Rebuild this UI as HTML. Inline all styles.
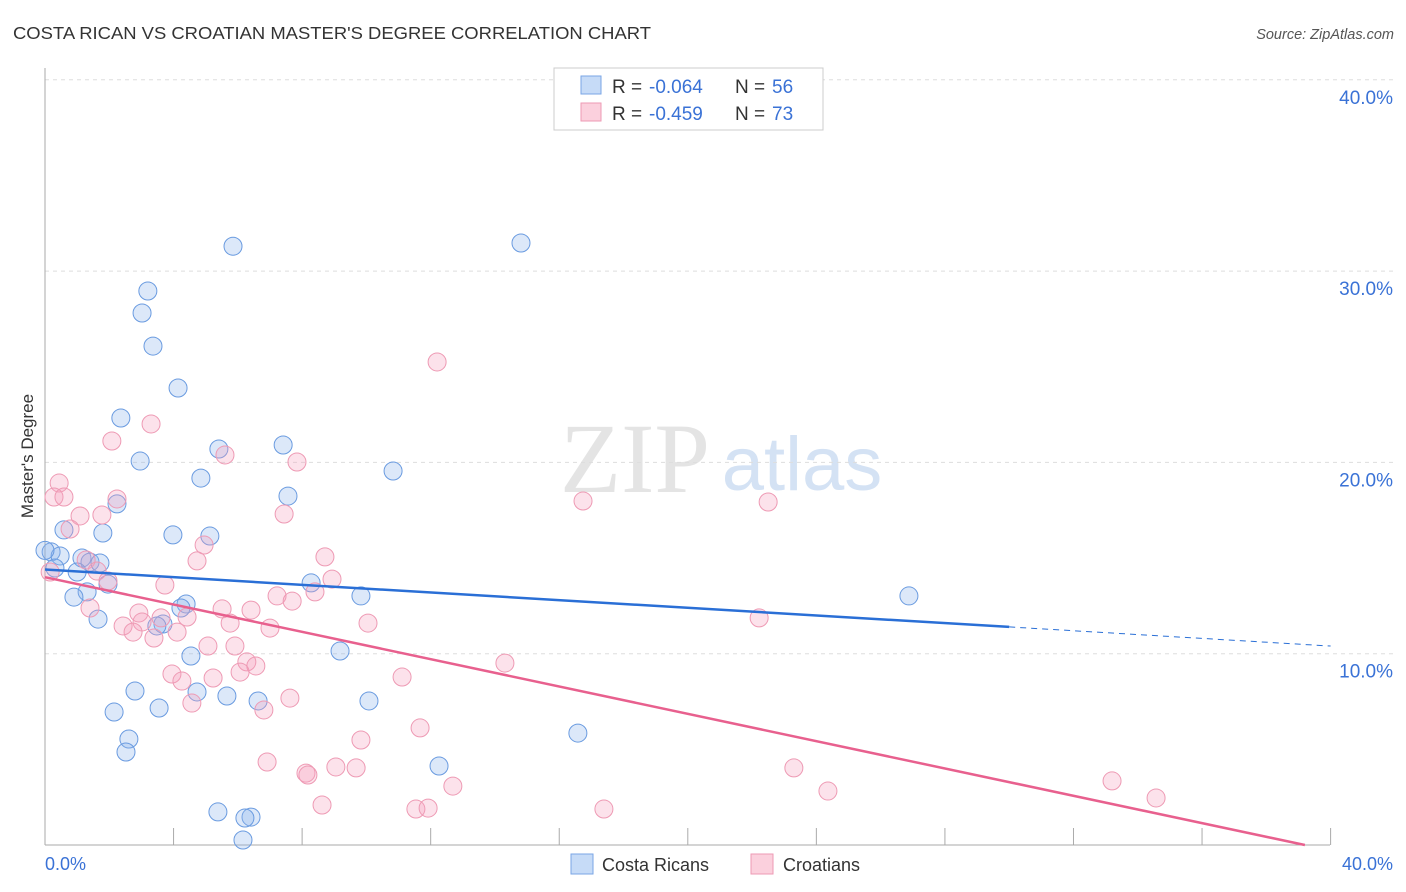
<!DOCTYPE html>
<html><head><meta charset="utf-8"><style>
body{margin:0;background:#fff;font-family:"Liberation Sans",sans-serif;}
svg{display:block}
</style></head><body>
<svg id="c" width="1406" height="892" xmlns="http://www.w3.org/2000/svg">
<text x="13" y="39" font-size="17.5" fill="#333" textLength="638" lengthAdjust="spacingAndGlyphs">COSTA RICAN VS CROATIAN MASTER'S DEGREE CORRELATION CHART</text>
<text x="1394" y="39" font-size="14.5" fill="#555" text-anchor="end" font-style="italic">Source: ZipAtlas.com</text>
<text x="635" y="492" font-size="100" fill="#e4e4e4" text-anchor="middle" font-family="Liberation Serif, serif">ZIP</text>
<text x="802" y="490" font-size="76" fill="#d4e2f4" text-anchor="middle">atlas</text>
<g id="grid"></g>
<g id="axes"></g>
<g id="pts"></g>
<g id="lines"></g>
<text transform="translate(33,456) rotate(-90)" font-size="17" fill="#333" text-anchor="middle">Master's Degree</text>
<g>
<rect x="554" y="68" width="269" height="62" fill="#fff" stroke="#ccc"/>
<rect x="581" y="76" width="20" height="18" fill="#c6dbf7" stroke="#7aa6e6"/>
<rect x="581" y="103" width="20" height="18" fill="#fbd0dd" stroke="#ee9ab4"/>
<text x="612" y="93" font-size="19" fill="#333">R =</text>
<text x="649" y="93" font-size="19" fill="#3a72d6">-0.064</text>
<text x="735" y="93" font-size="19" fill="#333">N =</text>
<text x="772" y="93" font-size="19" fill="#3a72d6">56</text>
<text x="612" y="120" font-size="19" fill="#333">R =</text>
<text x="649" y="120" font-size="19" fill="#3a72d6">-0.459</text>
<text x="735" y="120" font-size="19" fill="#333">N =</text>
<text x="772" y="120" font-size="19" fill="#3a72d6">73</text>
</g>
<g>
<rect x="571" y="854" width="22" height="20" fill="#c6dbf7" stroke="#7aa6e6"/>
<text x="602" y="871" font-size="18" fill="#333">Costa Ricans</text>
<rect x="751" y="854" width="22" height="20" fill="#fbd0dd" stroke="#ee9ab4"/>
<text x="783" y="871" font-size="18" fill="#333">Croatians</text>
</g>
</svg>
<script>
const yTicks=[10,20,30,40];
const yTickLabels=["10.0%","20.0%","30.0%","40.0%"];
const xTickLabels=["0.0%","40.0%"];
const blueX=[5.85,14.81,3.20,3.02,3.36,4.14,2.36,2.96,5.41,7.41,10.83,4.85,7.56,2.24,0.59,1.80,3.98,5.13,0.19,0.47,1.15,1.40,0.31,1.0,1.96,1.31,0.90,8.28,9.83,4.39,4.23,1.65,3.67,3.48,26.88,4.54,9.18,2.80,4.73,5.66,6.63,10.08,2.15,3.55,2.61,2.52,16.58,12.26,5.38,6.41,6.22,6.16,0.0,1.71];
const blueY=[31.3,31.47,28.96,27.81,26.08,23.89,22.32,20.07,20.70,20.91,19.55,19.18,18.24,17.83,16.47,16.31,16.21,16.15,15.32,15.11,15.0,14.79,14.48,14.27,13.64,13.23,12.96,13.70,13.02,12.60,12.39,11.81,11.55,11.45,13.02,9.88,10.14,8.05,8.0,7.79,7.53,7.53,6.95,7.16,5.54,4.86,5.85,4.13,1.73,1.46,1.41,0.26,15.4,14.74];
const pinkX=[12.20,3.30,2.08,5.60,7.84,0.44,0.28,0.59,2.24,16.74,22.50,1.77,1.09,7.44,0.78,4.95,8.71,4.73,1.28,1.62,0.16,3.73,1.96,8.93,8.40,7.22,7.69,1.40,2.92,5.51,6.41,4.42,3.61,2.43,3.02,5.76,10.05,7.0,22.22,2.74,3.39,4.11,5.07,5.91,6.28,6.56,6.07,3.95,4.26,5.23,14.31,11.11,4.57,6.81,7.62,11.67,9.83,6.91,9.05,9.68,8.12,8.18,12.69,23.30,33.20,8.62,11.54,11.92,17.39,24.36,34.57];
const pinkY=[25.25,22.01,21.12,20.39,20.02,18.92,18.19,18.19,18.09,17.98,17.93,17.25,17.20,17.30,16.52,15.68,15.06,14.85,14.90,14.32,14.27,13.59,13.80,13.90,13.23,13.02,12.75,12.39,12.13,12.34,12.28,11.92,11.87,11.45,11.66,11.60,11.60,11.34,11.87,11.13,10.82,11.13,10.40,10.40,9.57,9.36,9.04,8.94,8.57,8.73,9.51,8.78,7.42,7.06,7.68,6.12,5.49,4.34,4.08,4.03,3.76,3.66,3.08,4.03,3.35,2.09,1.88,1.93,1.88,2.82,2.46];
const blueTrend=[14.4,11.4,10.4]; // at x=0, 30, 40
const pinkTrend=[14.0,0]; // at x=0, 39.2
const pinkTrendEndX=39.2;
const X=v=>45+v*32.14, Y=v=>845-v*19.13;
const NS="http://www.w3.org/2000/svg";
function mk(tag,attrs,parent){const e=document.createElementNS(NS,tag);for(const k in attrs)e.setAttribute(k,attrs[k]);document.getElementById(parent).appendChild(e);return e;}
yTicks.forEach((t,i)=>{
 const l=mk('line',{x1:45,x2:1393,y1:Y(t),y2:Y(t),stroke:'#ddd','stroke-dasharray':'4,4'},'grid');
 
 
 const tx=mk('text',{x:1393,y:Y(t)+24,'font-size':19,fill:'#3a72d6','text-anchor':'end'},'grid');
 tx.textContent=yTickLabels[i];
 
 
});
const ax=mk('line',{x1:45,x2:45,y1:68,y2:845,stroke:'#aaa'},'axes');


const bx=mk('line',{x1:45,x2:1330,y1:845,y2:845,stroke:'#aaa'},'axes');


for(let i=1;i<=10;i++){const t=mk('line',{x1:X(i*4),x2:X(i*4),y1:828,y2:845,stroke:'#aaa'},'axes');
 
 }
[[0,'start',45],[40,'end',1393]].forEach((d,i)=>{const t=mk('text',{x:d[2],y:870,'font-size':18,fill:'#3a72d6','text-anchor':d[1]},'axes');t.textContent=xTickLabels[i];
 
 });
blueX.forEach((v,i)=>{const c=mk('circle',{cx:X(v),cy:Y(blueY[i]),r:9,fill:'rgba(140,180,235,0.3)',stroke:'#6a9be0','stroke-width':1},'pts');
 
 });
pinkX.forEach((v,i)=>{const c=mk('circle',{cx:X(v),cy:Y(pinkY[i]),r:9,fill:'rgba(245,160,190,0.3)',stroke:'#ee9ab4','stroke-width':1},'pts');
 
 });
const b1=mk('line',{x1:X(0),y1:Y(blueTrend[0]),x2:X(30),y2:Y(blueTrend[1]),stroke:'#2a6fd6','stroke-width':2.5},'lines');


const b2=mk('line',{x1:X(30),y1:Y(blueTrend[1]),x2:X(40),y2:Y(blueTrend[2]),stroke:'#2a6fd6','stroke-width':1,'stroke-dasharray':'6,5'},'lines');


const p1=mk('line',{x1:X(0),y1:Y(pinkTrend[0]),x2:X(pinkTrendEndX),y2:Y(pinkTrend[1]),stroke:'#e8608e','stroke-width':2.5},'lines');


</script>
</body></html>
